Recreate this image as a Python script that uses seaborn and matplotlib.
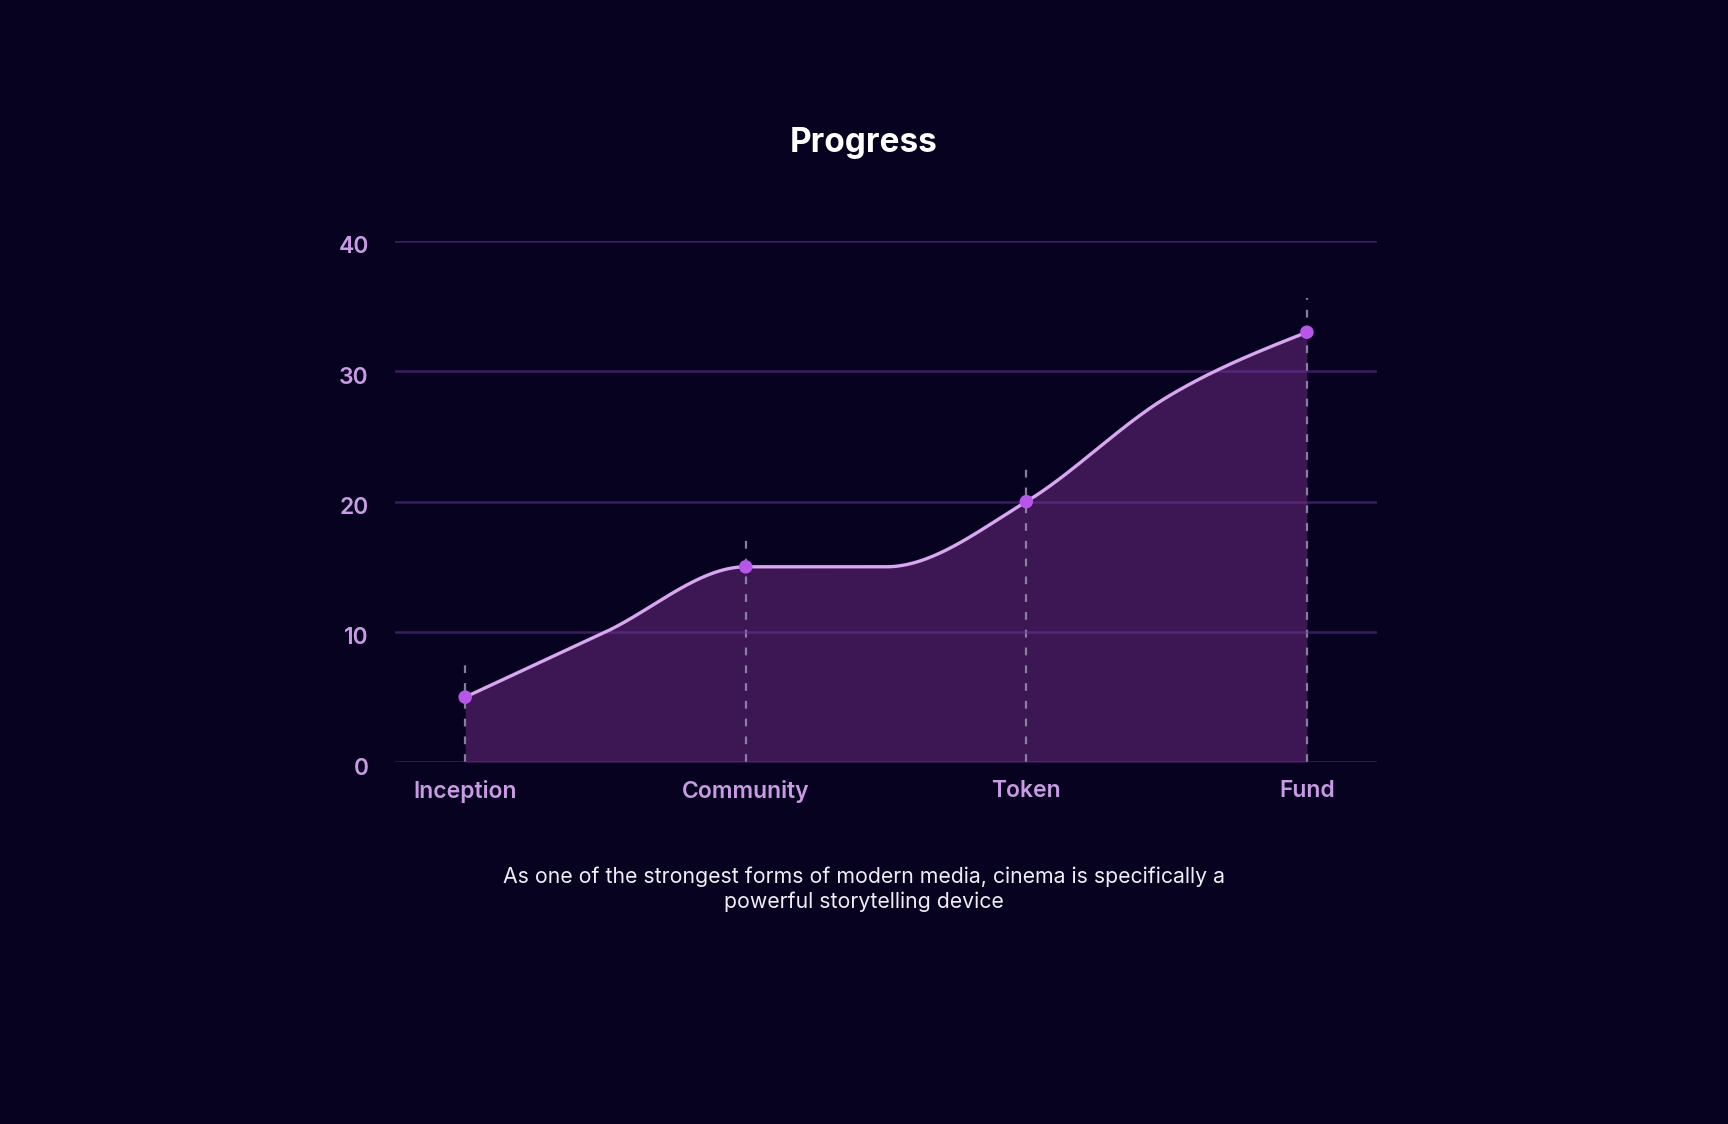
import matplotlib
matplotlib.use("Agg")
import matplotlib.pyplot as plt
from matplotlib.transforms import ScaledTranslation
import numpy as np
import pandas as pd
import seaborn as sns

STAGES = ["Inception", "Community", "Token", "Fund"]
STAGE_VALUES = [5, 15, 20, 33]
# the drawn curve also passes through these half-way readings
CURVE_POS = [0, 0.5, 1, 1.5, 2, 2.5, 3]
CURVE_VALUES = [5, 10, 15, 15, 20, 28, 33]
Y_TICKS = [0, 10, 20, 30, 40]
TITLE = "Progress"
CAPTION = ("As one of the strongest forms of modern media, cinema is specifically a\n"
           "powerful storytelling device")

BG = "#06021f"
FILL = "#3c1753"
LINE = "#d9a6f0"
MARKER = "#b657e9"
GRID = "#6a3296"
TICK = "#c99be4"
STEM = "#958aaa"


def monotone_curve(x, y, steps=60):
    """Monotone cubic (d3 curveMonotoneX style) through the given points."""
    x = np.asarray(x, float)
    y = np.asarray(y, float)
    h = np.diff(x)
    s = np.diff(y) / h
    m = np.zeros(len(x))
    for i in range(1, len(x) - 1):
        s0, s1 = s[i - 1], s[i]
        p = (s0 * h[i] + s1 * h[i - 1]) / (h[i - 1] + h[i])
        sg = (1 if s0 >= 0 else -1) + (1 if s1 >= 0 else -1)
        m[i] = sg * min(abs(s0), abs(s1), 0.5 * abs(p))
    m[0] = (3 * s[0] - m[1]) / 2
    m[-1] = (3 * s[-1] - m[-2]) / 2
    xs, ys = [], []
    for i in range(len(x) - 1):
        t = np.linspace(0, 1, steps, endpoint=(i == len(x) - 2))
        h00 = 2 * t**3 - 3 * t**2 + 1
        h10 = t**3 - 2 * t**2 + t
        h01 = -2 * t**3 + 3 * t**2
        h11 = t**3 - t**2
        xs.append(x[i] + t * h[i])
        ys.append(h00 * y[i] + h10 * h[i] * m[i] + h01 * y[i + 1] + h11 * h[i] * m[i + 1])
    return np.concatenate(xs), np.concatenate(ys)


sns.set_theme(style="dark")
plt.rcParams["font.family"] = ["Inter", "DejaVu Sans"]

fig = plt.figure(figsize=(17.28, 11.24), dpi=100, facecolor=BG)
ax = fig.add_axes([0.2286, 0.3218, 0.5683, 0.4638])
ax.set_facecolor(BG)

cx, cy = monotone_curve(CURVE_POS, CURVE_VALUES)
curve = pd.DataFrame({"pos": cx, "value": cy})
points = pd.DataFrame({"pos": np.arange(len(STAGES)), "value": STAGE_VALUES})

ax.fill_between(curve["pos"], 0, curve["value"], color=FILL, lw=0, zorder=1)
ax.vlines(points["pos"], 0, points["value"] + 2.6, colors=STEM, lw=1.6,
          linestyles=(0, (3.5, 4.5)), zorder=2, alpha=0.9)
sns.lineplot(data=curve, x="pos", y="value", ax=ax, color=LINE, lw=2.4,
             sort=False, zorder=4)
sns.scatterplot(data=points, x="pos", y="value", ax=ax, color=MARKER, s=95,
                edgecolor="none", zorder=5)

ax.set_xlim(-0.25, 3.25)
ax.set_ylim(0, 40)
ax.set_xticks(points["pos"], STAGES)
ax.set_yticks(Y_TICKS)
ax.set_xlabel("")
ax.set_ylabel("")
ax.set_axisbelow(False)
ax.grid(False)
ax.grid(axis="y", color=GRID, alpha=0.55, lw=1.8, zorder=3)
for side in ax.spines.values():
    side.set_visible(False)
ax.tick_params(axis="x", length=0, pad=13, labelsize=16.5, labelcolor=TICK)
ax.tick_params(axis="y", length=0, pad=19, labelsize=16.5, labelcolor=TICK)
shift = ScaledTranslation(0, -0.04, fig.dpi_scale_trans)
for lab in ax.get_yticklabels():
    lab.set_transform(lab.get_transform() + shift)
for lab in ax.get_xticklabels() + ax.get_yticklabels():
    lab.set_fontweight("semibold")

fig.text(0.5, 1 - 143 / 1124, TITLE, ha="center", va="center", color="white",
         fontsize=24, fontweight="bold")
fig.text(0.5, 1 - 889 / 1124, CAPTION, ha="center", va="center", color="#f2ecf7",
         fontsize=15.3, linespacing=1.3)

fig.savefig("out.png", dpi=100, facecolor=BG)
